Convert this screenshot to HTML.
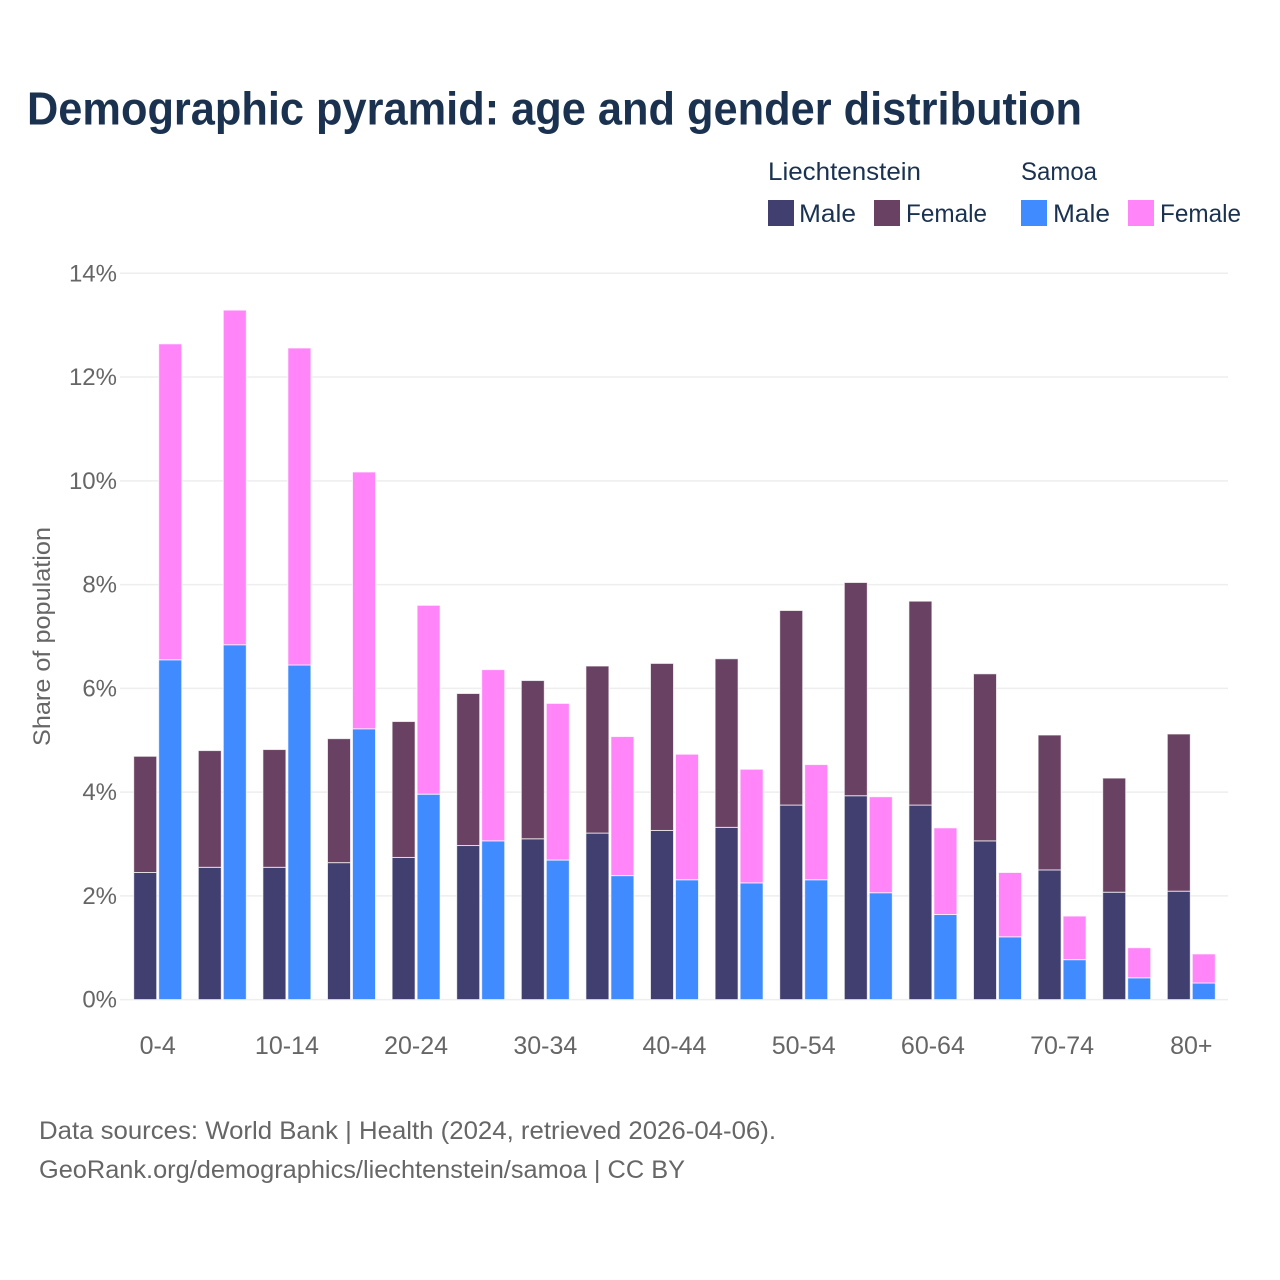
<!DOCTYPE html>
<html lang="en">
<head>
<meta charset="utf-8">
<title>Demographic pyramid</title>
<style>
html,body{margin:0;padding:0;background:#fff;width:1280px;height:1280px;overflow:hidden}
svg{display:block;font-family:"Liberation Sans",sans-serif}
</style>
</head>
<body>
<svg id="chart" xmlns="http://www.w3.org/2000/svg" width="1280" height="1280" viewBox="0 0 1280 1280">
  <rect width="1280" height="1280" fill="#fff"/>
  <text x="27" y="124.5" font-size="46" font-weight="700" fill="#1a3250" textLength="1055" lengthAdjust="spacingAndGlyphs">Demographic pyramid: age and gender distribution</text>

  <g font-size="25" fill="#1a3250">
    <text x="768" y="180" textLength="153" lengthAdjust="spacingAndGlyphs">Liechtenstein</text>
    <text x="1021" y="180" textLength="76" lengthAdjust="spacingAndGlyphs">Samoa</text>
    <rect x="768" y="200" width="26" height="26" fill="#413f70"/>
    <text x="799" y="222" textLength="57" lengthAdjust="spacingAndGlyphs">Male</text>
    <rect x="874" y="200" width="26" height="26" fill="#694162"/>
    <text x="906" y="222" textLength="81" lengthAdjust="spacingAndGlyphs">Female</text>
    <rect x="1021" y="200" width="26" height="26" fill="#408bff"/>
    <text x="1053" y="222" textLength="57" lengthAdjust="spacingAndGlyphs">Male</text>
    <rect x="1128" y="200" width="26" height="26" fill="#ff85f8"/>
    <text x="1160" y="222" textLength="81" lengthAdjust="spacingAndGlyphs">Female</text>
  </g>

  <g id="grid"></g>
  <g id="yticks" font-size="24" fill="#666" text-anchor="end"></g>
  <g id="bars"></g>
  <g id="xticks" font-size="25" fill="#666" text-anchor="middle"></g>

  <text transform="translate(50,636.5) rotate(-90)" font-size="24" fill="#666" text-anchor="middle" textLength="219" lengthAdjust="spacingAndGlyphs">Share of population</text>

  <text x="39" y="1139" font-size="25" fill="#666" textLength="737" lengthAdjust="spacingAndGlyphs">Data sources: World Bank | Health (2024, retrieved 2026-04-06).</text>
  <text x="39" y="1178" font-size="25" fill="#666" textLength="646" lengthAdjust="spacingAndGlyphs">GeoRank.org/demographics/liechtenstein/samoa | CC BY</text>
</svg>
<script>
const categories = ["0-4","5-9","10-14","15-19","20-24","25-29","30-34","35-39","40-44","45-49","50-54","55-59","60-64","65-69","70-74","75-79","80+"];
const liechtensteinMale = [2.45,2.55,2.55,2.64,2.74,2.97,3.10,3.21,3.26,3.32,3.75,3.93,3.75,3.06,2.50,2.07,2.09];
const liechtensteinFemale = [2.24,2.25,2.27,2.39,2.62,2.93,3.05,3.22,3.22,3.25,3.75,4.11,3.93,3.22,2.60,2.20,3.03];
const samoaMale = [6.55,6.84,6.45,5.22,3.96,3.06,2.69,2.39,2.31,2.25,2.31,2.06,1.64,1.21,0.77,0.42,0.32];
const samoaFemale = [6.09,6.45,6.11,4.95,3.64,3.30,3.02,2.68,2.42,2.19,2.22,1.85,1.67,1.24,0.84,0.58,0.56];
const yTickValues = [0,2,4,6,8,10,12,14];
const xTickLabels = ["0-4","10-14","20-24","30-34","40-44","50-54","60-64","70-74","80+"];

const NS = "http://www.w3.org/2000/svg";
const yScale = v => 999.6 - v * (999.6 - 273.3) / 14;
const groupCenter = i => 157.7 + i * 64.6;
const barOffset = 12.5;
const barWidth = 23;

const gridG = document.getElementById("grid");
const ytG = document.getElementById("yticks");
yTickValues.forEach(function (t) {
  const line = document.createElementNS(NS, "line");
  line.setAttribute("x1", 120);
  line.setAttribute("x2", 1228);
  line.setAttribute("y1", yScale(t));
  line.setAttribute("y2", yScale(t));
  line.setAttribute("stroke", "#eeeeee");
  line.setAttribute("stroke-width", 1.5);
  
  
  gridG.appendChild(line);
  const label = document.createElementNS(NS, "text");
  label.setAttribute("x", 117);
  label.setAttribute("y", yScale(t) + 8);
  label.textContent = t + "%";
  
  
  ytG.appendChild(label);
});

const barsG = document.getElementById("bars");
function addBar(i, offset, base, value, color) {
  const top = yScale(base + value);
  const bottom = yScale(base);
  const r = document.createElementNS(NS, "rect");
  r.setAttribute("x", groupCenter(i) + offset - barWidth / 2);
  r.setAttribute("y", top);
  r.setAttribute("width", barWidth);
  r.setAttribute("height", bottom - top);
  r.setAttribute("fill", color);
  r.setAttribute("stroke", "#ffffff");
  r.setAttribute("stroke-opacity", "0.7");
  r.setAttribute("stroke-width", 1);
  
  
  barsG.appendChild(r);
}
categories.forEach(function (c, i) {
  addBar(i, -barOffset, 0, liechtensteinMale[i], "#413f70");
  addBar(i, -barOffset, liechtensteinMale[i], liechtensteinFemale[i], "#694162");
  addBar(i, barOffset, 0, samoaMale[i], "#408bff");
  addBar(i, barOffset, samoaMale[i], samoaFemale[i], "#ff85f8");
});

const xtG = document.getElementById("xticks");
xTickLabels.forEach(function (lab) {
  const t = document.createElementNS(NS, "text");
  t.setAttribute("x", groupCenter(categories.indexOf(lab)));
  t.setAttribute("y", 1054);
  t.textContent = lab;
  
  
  xtG.appendChild(t);
});
</script>
</body>
</html>
